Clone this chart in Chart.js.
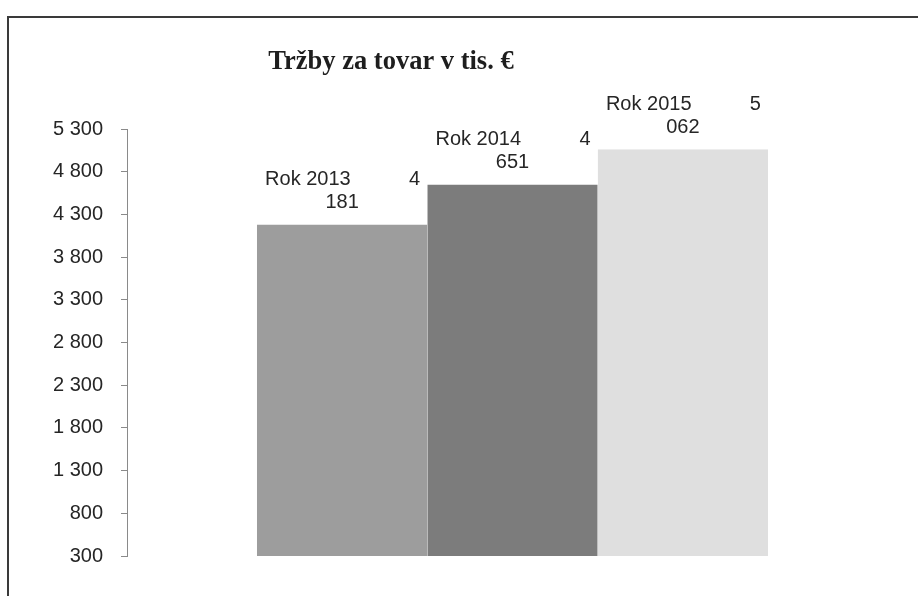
<!DOCTYPE html>
<html><head><meta charset="utf-8">
<script src="https://cdn.jsdelivr.net/npm/chart.js@4/dist/chart.umd.min.js"></script>
<style>html,body{margin:0;padding:0;background:#fff}#wrap{width:918px;height:596px;position:relative}canvas{display:block}</style>
</head><body><div id="wrap"><canvas id="c" width="918" height="596"></canvas></div>
<script>
const categories = [''];
const seriesNames = ['Rok 2013', 'Rok 2014', 'Rok 2015'];
const seriesValues = [4181, 4651, 5062];
const seriesColors = ['#9d9d9d', '#7c7c7c', '#dfdfdf'];
const seriesEdge = ['#858585', '#666666', '#d2d2d2'];
const yMin = 300;
const yMax = 5300;
const yStep = 500;
const titleText = 'Tržby za tovar v tis. €';

function fmt(v) { return String(v).replace(/\B(?=(\d{3})+(?!\d))/g, ' '); }

const framePlugin = {
  id: 'frame',
  beforeDraw(chart) {
    const ctx = chart.ctx;
    ctx.save();
    ctx.fillStyle = '#fff';
    ctx.fillRect(0, 0, chart.width, chart.height);
    ctx.strokeStyle = '#3a3a3a';
    ctx.lineWidth = 2;
    ctx.beginPath();
    ctx.moveTo(8, chart.height);
    ctx.lineTo(8, 17);
    ctx.lineTo(chart.width, 17);
    ctx.stroke();
    ctx.fillStyle = '#1e1e1e';
    ctx.font = 'bold 26.5px "Liberation Serif"';
    ctx.textAlign = 'center';
    ctx.textBaseline = 'alphabetic';
    ctx.fillText(titleText, 391, 69);
    ctx.restore();
  }
};

const labelPlugin = {
  id: 'barLabels',
  afterDatasetsDraw(chart) {
    const ctx = chart.ctx;
    ctx.save();
    ctx.font = '20px "Liberation Sans"';
    ctx.fillStyle = '#262626';
    ctx.textBaseline = 'middle';
    chart.data.datasets.forEach((ds, i) => {
      const el = chart.getDatasetMeta(i).data[0];
      const parts = fmt(ds.data[0]).split(' ');
      const x = el.x, y = el.y;
      ctx.textAlign = 'left';
      ctx.fillText(ds.label, x - 77, y - 45);
      ctx.textAlign = 'right';
      ctx.fillText(parts[0], x + 78, y - 45);
      ctx.textAlign = 'center';
      ctx.fillText(parts.slice(1).join(' '), x, y - 22);
    });
    ctx.restore();
  }
};

new Chart(document.getElementById('c'), {
  type: 'bar',
  data: {
    labels: categories,
    datasets: seriesNames.map((n, i) => ({
      label: n,
      data: [seriesValues[i]],
      backgroundColor: seriesColors[i],
      borderColor: seriesEdge[i],
      borderWidth: { top: 0, left: 0, right: 0, bottom: 2 },
      borderSkipped: false,
      categoryPercentage: 0.663,
      barPercentage: 1
    }))
  },
  options: {
    responsive: false,
    animation: false,
    devicePixelRatio: 1,
    layout: { padding: { top: 129, bottom: 40, left: 0, right: 20 } },
    plugins: { legend: { display: false }, title: { display: false }, tooltip: { enabled: false } },
    scales: {
      x: { display: false },
      y: {
        min: yMin, max: yMax,
        afterFit(s) { s.width = 127; },
        border: { display: true, color: '#8a8a8a', width: 1 },
        grid: { display: true, drawOnChartArea: false, drawTicks: true, tickLength: 6, color: '#8a8a8a' },
        ticks: {
          stepSize: yStep, padding: 18, color: '#262626',
          font: { family: 'Liberation Sans', size: 20 },
          callback: v => fmt(v)
        }
      }
    }
  },
  plugins: [framePlugin, labelPlugin]
});
</script></body></html>
